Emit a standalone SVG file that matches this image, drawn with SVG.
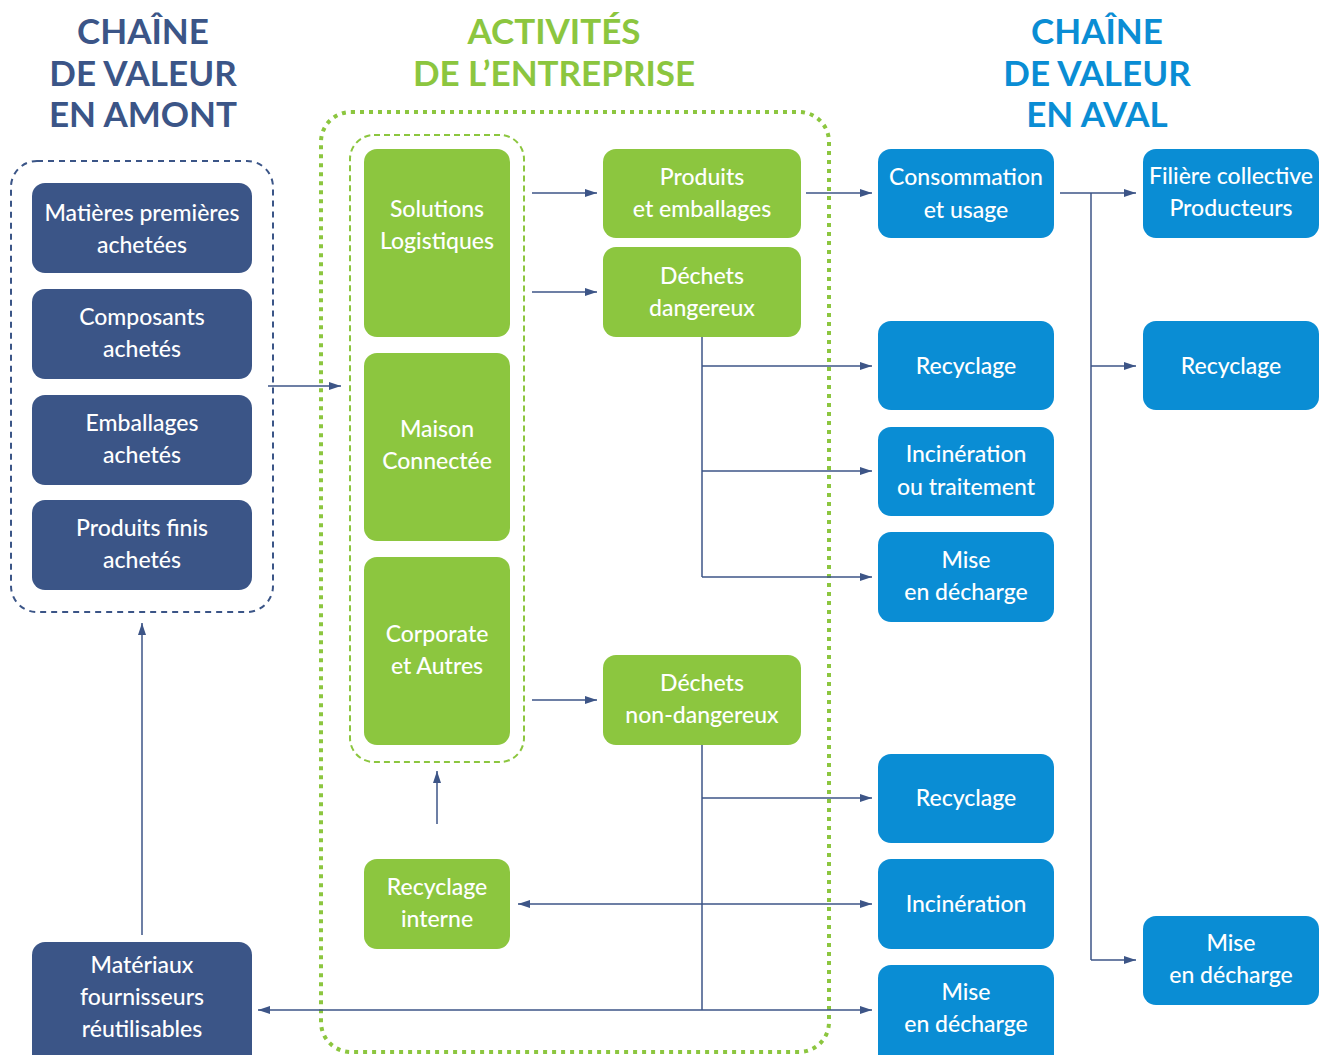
<svg xmlns="http://www.w3.org/2000/svg" width="1323" height="1055" viewBox="0 0 1323 1055">
<defs>
<marker id="ah" viewBox="0 0 12 8" refX="12" refY="4" markerWidth="12" markerHeight="8" markerUnits="userSpaceOnUse" orient="auto-start-reverse">
<path d="M0,0 L12,4 L0,8 Z" fill="#3d5587"/>
</marker>
<style>
.db{fill:#3b5587}
.gr{fill:#8cc63f}
.bl{fill:#0a8dd4}
.t{font-family:Lato,"Liberation Sans",sans-serif;font-size:23px;fill:#fff;text-anchor:middle;font-weight:500}
.h{font-family:Lato,"Liberation Sans",sans-serif;font-size:35px;font-weight:bold;text-anchor:middle}
.c{stroke:#3d5587;stroke-width:1.5;fill:none}
.a{marker-end:url(#ah)}
</style>
</defs>
<rect width="1323" height="1055" fill="#fff"/>
<g id="titles">
<text class="h" fill="#3b5587"><tspan x="143" y="44">CHAÎNE</tspan><tspan x="143" y="86">DE VALEUR</tspan><tspan x="143" y="127">EN AMONT</tspan></text>
<text class="h" fill="#8cc63f"><tspan x="554" y="44">ACTIVITÉS</tspan><tspan x="554" y="86">DE L’ENTREPRISE</tspan></text>
<text class="h" fill="#0a8dd4"><tspan x="1097" y="44">CHAÎNE</tspan><tspan x="1097" y="86">DE VALEUR</tspan><tspan x="1097" y="127">EN AVAL</tspan></text>
</g>
<g id="groups">
<rect x="11" y="161" width="262" height="451" rx="26" fill="none" stroke="#3b5587" stroke-width="2" stroke-dasharray="6 5"/>
<rect x="321" y="112" width="508" height="940" rx="30" fill="none" stroke="#8cc63f" stroke-width="4" stroke-dasharray="4 5"/>
<rect x="350" y="135" width="174" height="627" rx="24" fill="none" stroke="#8cc63f" stroke-width="2" stroke-dasharray="6 4"/>
</g>
<g id="connectors">
<line class="c a" x1="268" y1="386" x2="341" y2="386"/>
<line class="c a" x1="532" y1="193" x2="597" y2="193"/>
<line class="c a" x1="532" y1="292" x2="597" y2="292"/>
<line class="c a" x1="532" y1="700" x2="597" y2="700"/>
<line class="c a" x1="806" y1="193" x2="872" y2="193"/>
<line class="c" x1="702" y1="337" x2="702" y2="577"/>
<line class="c a" x1="702" y1="366" x2="872" y2="366"/>
<line class="c a" x1="702" y1="471" x2="872" y2="471"/>
<line class="c a" x1="702" y1="577" x2="872" y2="577"/>
<line class="c" x1="702" y1="745" x2="702" y2="1010"/>
<line class="c a" x1="702" y1="798" x2="872" y2="798"/>
<line class="c a" x1="702" y1="1010" x2="872" y2="1010"/>
<line class="c a" x1="702" y1="1010" x2="258" y2="1010"/>
<line class="c a" x1="518" y1="904" x2="872" y2="904" style="marker-start:url(#ah)"/>
<line class="c a" x1="437" y1="824" x2="437" y2="771"/>
<line class="c a" x1="142" y1="935" x2="142" y2="623"/>
<line class="c a" x1="1060" y1="193" x2="1136" y2="193"/>
<line class="c" x1="1091" y1="193" x2="1091" y2="960"/>
<line class="c a" x1="1091" y1="366" x2="1136" y2="366"/>
<line class="c a" x1="1091" y1="960" x2="1136" y2="960"/>
</g>
<g id="n-matieres"><rect class="db" x="32" y="183" width="220" height="90" rx="13"/><text class="t"><tspan x="142" y="221">Matières premières</tspan><tspan x="142" y="253">achetées</tspan></text></g>
<g id="n-composants"><rect class="db" x="32" y="289" width="220" height="90" rx="13"/><text class="t"><tspan x="142" y="325">Composants</tspan><tspan x="142" y="357">achetés</tspan></text></g>
<g id="n-emballages"><rect class="db" x="32" y="395" width="220" height="90" rx="13"/><text class="t"><tspan x="142" y="431">Emballages</tspan><tspan x="142" y="463">achetés</tspan></text></g>
<g id="n-produitsfinis"><rect class="db" x="32" y="500" width="220" height="90" rx="13"/><text class="t"><tspan x="142" y="536">Produits finis</tspan><tspan x="142" y="568">achetés</tspan></text></g>
<g id="n-materiaux"><rect class="db" x="32" y="942" width="220" height="125" rx="13"/><text class="t"><tspan x="142" y="973">Matériaux</tspan><tspan x="142" y="1005">fournisseurs</tspan><tspan x="142" y="1037">réutilisables</tspan></text></g>
<g id="n-solutions"><rect class="gr" x="364" y="149" width="146" height="188" rx="13"/><text class="t"><tspan x="437" y="217">Solutions</tspan><tspan x="437" y="249">Logistiques</tspan></text></g>
<g id="n-maison"><rect class="gr" x="364" y="353" width="146" height="188" rx="13"/><text class="t"><tspan x="437" y="437">Maison</tspan><tspan x="437" y="469">Connectée</tspan></text></g>
<g id="n-corporate"><rect class="gr" x="364" y="557" width="146" height="188" rx="13"/><text class="t"><tspan x="437" y="642">Corporate</tspan><tspan x="437" y="674">et Autres</tspan></text></g>
<g id="n-recyclage-interne"><rect class="gr" x="364" y="859" width="146" height="90" rx="13"/><text class="t"><tspan x="437" y="895">Recyclage</tspan><tspan x="437" y="927">interne</tspan></text></g>
<g id="n-produits"><rect class="gr" x="603" y="149" width="198" height="89" rx="13"/><text class="t"><tspan x="702" y="185">Produits</tspan><tspan x="702" y="217">et emballages</tspan></text></g>
<g id="n-dechets-dangereux"><rect class="gr" x="603" y="247" width="198" height="90" rx="13"/><text class="t"><tspan x="702" y="284">Déchets</tspan><tspan x="702" y="316">dangereux</tspan></text></g>
<g id="n-dechets-non"><rect class="gr" x="603" y="655" width="198" height="90" rx="13"/><text class="t"><tspan x="702" y="691">Déchets</tspan><tspan x="702" y="723">non-dangereux</tspan></text></g>
<g id="n-consommation"><rect class="bl" x="878" y="149" width="176" height="89" rx="13"/><text class="t"><tspan x="966" y="185">Consommation</tspan><tspan x="966" y="218">et usage</tspan></text></g>
<g id="n-recyclage1"><rect class="bl" x="878" y="321" width="176" height="89" rx="13"/><text class="t"><tspan x="966" y="374">Recyclage</tspan></text></g>
<g id="n-incineration1"><rect class="bl" x="878" y="427" width="176" height="89" rx="13"/><text class="t"><tspan x="966" y="462">Incinération</tspan><tspan x="966" y="495">ou traitement</tspan></text></g>
<g id="n-mise1"><rect class="bl" x="878" y="532" width="176" height="90" rx="13"/><text class="t"><tspan x="966" y="568">Mise</tspan><tspan x="966" y="600">en décharge</tspan></text></g>
<g id="n-recyclage2"><rect class="bl" x="878" y="754" width="176" height="89" rx="13"/><text class="t"><tspan x="966" y="806">Recyclage</tspan></text></g>
<g id="n-incineration2"><rect class="bl" x="878" y="859" width="176" height="90" rx="13"/><text class="t"><tspan x="966" y="912">Incinération</tspan></text></g>
<g id="n-mise2"><rect class="bl" x="878" y="965" width="176" height="102" rx="13"/><text class="t"><tspan x="966" y="1000">Mise</tspan><tspan x="966" y="1032">en décharge</tspan></text></g>
<g id="n-filiere"><rect class="bl" x="1143" y="149" width="176" height="89" rx="13"/><text class="t"><tspan x="1231" y="184">Filière collective</tspan><tspan x="1231" y="216">Producteurs</tspan></text></g>
<g id="n-recyclage3"><rect class="bl" x="1143" y="321" width="176" height="89" rx="13"/><text class="t"><tspan x="1231" y="374">Recyclage</tspan></text></g>
<g id="n-mise3"><rect class="bl" x="1143" y="916" width="176" height="89" rx="13"/><text class="t"><tspan x="1231" y="951">Mise</tspan><tspan x="1231" y="983">en décharge</tspan></text></g>
</svg>
